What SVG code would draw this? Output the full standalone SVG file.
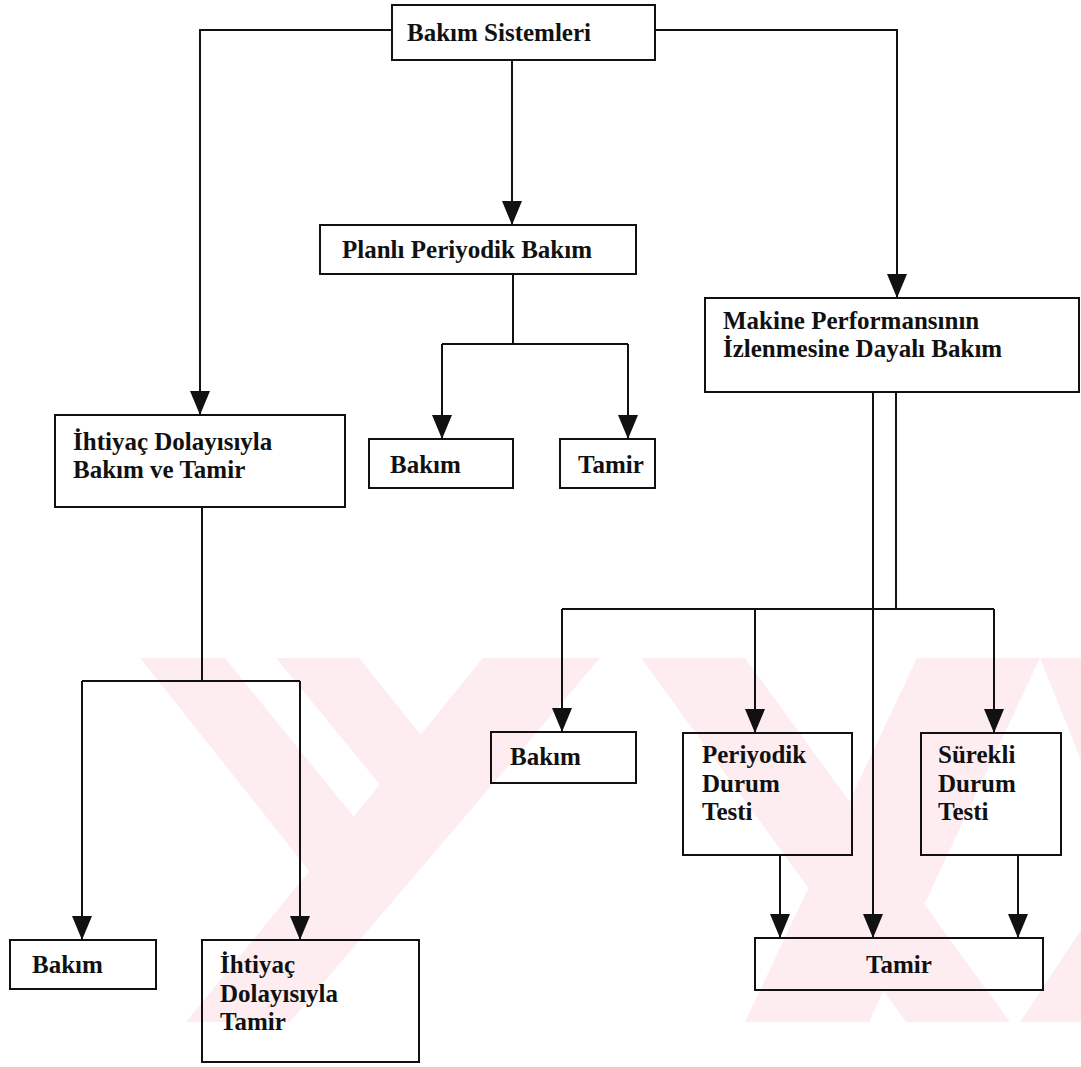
<svg xmlns="http://www.w3.org/2000/svg" width="1081" height="1067" viewBox="0 0 1081 1067">
<defs>
<style>
.box{fill:none;stroke:#111;stroke-width:2}
.t{font-family:"Liberation Serif","Times New Roman",serif;font-weight:bold;font-size:25px;fill:#111}
.c{fill:none;stroke:#111;stroke-width:2}
.wm{fill:#fdedf0}
</style>
<marker id="ah" markerUnits="userSpaceOnUse" markerWidth="24" markerHeight="20" refX="24" refY="10" orient="auto">
<path d="M0,0 L24,10 L0,20 Z" fill="#111"/>
</marker>
</defs>
<rect width="1081" height="1067" fill="#fff"/>
<g id="watermark">
<polygon class="wm" points="140,658 225,658 405,880 360,935"/>
<polygon class="wm" points="276,658 359,658 445,765 405,815"/>
<polygon class="wm" points="483,658 600,658 290,1022 186,1022"/>
<polygon class="wm" points="641,658 745,658 1010,1022 906,1022"/>
<polygon class="wm" points="917,658 1040,658 869,1022 745,1022"/>
<polygon class="wm" points="1040,658 1081,658 1081,1022 1020,1022 1081,930 1081,760"/>
</g>
<g id="connectors">
<path class="c" d="M392,30 H200 V415" marker-end="url(#ah)"/>
<path class="c" d="M512,60 V225" marker-end="url(#ah)"/>
<path class="c" d="M655,30 H897 V298" marker-end="url(#ah)"/>
<path class="c" d="M513,274 V344"/>
<path class="c" d="M442,344 H628"/>
<path class="c" d="M442,344 V439" marker-end="url(#ah)"/>
<path class="c" d="M628,344 V439" marker-end="url(#ah)"/>
<path class="c" d="M202,507 V681"/>
<path class="c" d="M82,681 H300"/>
<path class="c" d="M82,681 V940" marker-end="url(#ah)"/>
<path class="c" d="M300,681 V940" marker-end="url(#ah)"/>
<path class="c" d="M873,392 V938" marker-end="url(#ah)"/>
<path class="c" d="M896,392 V609"/>
<path class="c" d="M562,609 H994"/>
<path class="c" d="M562,609 V732" marker-end="url(#ah)"/>
<path class="c" d="M755,609 V733" marker-end="url(#ah)"/>
<path class="c" d="M994,609 V733" marker-end="url(#ah)"/>
<path class="c" d="M780,855 V938" marker-end="url(#ah)"/>
<path class="c" d="M1018,855 V938" marker-end="url(#ah)"/>
</g>
<g id="n-bakim-sistemleri">
<rect class="box" x="392" y="5" width="263" height="55"/>
<text class="t" x="407" y="41">Bakım Sistemleri</text>
</g>
<g id="n-planli">
<rect class="box" x="320" y="225" width="316" height="49"/>
<text class="t" x="342" y="258">Planlı Periyodik Bakım</text>
</g>
<g id="n-makine">
<rect class="box" x="705" y="298" width="374" height="94"/>
<text class="t" x="723" y="329">Makine Performansının</text>
<text class="t" x="723" y="357">İzlenmesine Dayalı Bakım</text>
</g>
<g id="n-ihtiyac">
<rect class="box" x="55" y="415" width="290" height="92"/>
<text class="t" x="73" y="450">İhtiyaç Dolayısıyla</text>
<text class="t" x="73" y="478">Bakım ve Tamir</text>
</g>
<g id="n-bakim1">
<rect class="box" x="369" y="439" width="144" height="49"/>
<text class="t" x="390" y="473">Bakım</text>
</g>
<g id="n-tamir1">
<rect class="box" x="560" y="439" width="95" height="49"/>
<text class="t" x="578" y="473">Tamir</text>
</g>
<g id="n-bakim2">
<rect class="box" x="10" y="940" width="146" height="49"/>
<text class="t" x="32" y="973">Bakım</text>
</g>
<g id="n-ihtiyac-tamir">
<rect class="box" x="202" y="940" width="217" height="122"/>
<text class="t" x="220" y="973">İhtiyaç</text>
<text class="t" x="220" y="1002">Dolayısıyla</text>
<text class="t" x="220" y="1030">Tamir</text>
</g>
<g id="n-bakim3">
<rect class="box" x="491" y="732" width="145" height="51"/>
<text class="t" x="510" y="765">Bakım</text>
</g>
<g id="n-periyodik">
<rect class="box" x="683" y="733" width="169" height="122"/>
<text class="t" x="702" y="763">Periyodik</text>
<text class="t" x="702" y="792">Durum</text>
<text class="t" x="702" y="820">Testi</text>
</g>
<g id="n-surekli">
<rect class="box" x="921" y="733" width="140" height="122"/>
<text class="t" x="938" y="763">Sürekli</text>
<text class="t" x="938" y="792">Durum</text>
<text class="t" x="938" y="820">Testi</text>
</g>
<g id="n-tamir2">
<rect class="box" x="755" y="938" width="288" height="52"/>
<text class="t" x="866" y="973">Tamir</text>
</g>
</svg>
